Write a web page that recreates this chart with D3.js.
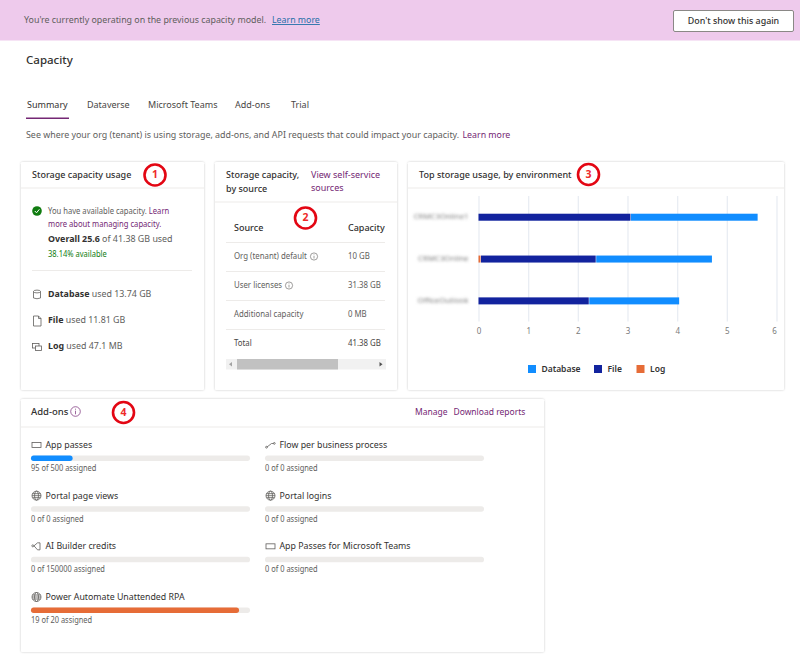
<!DOCTYPE html>
<html>
<head>
<meta charset="utf-8">
<script src="https://d3js.org/d3.v7.min.js"></script>
<style>
	html, body { margin: 0; padding: 0; background: #fff; }
	svg { display: block; }
	text { font-family: "Noto Sans", sans-serif; }
</style>
</head>
<body>
<svg id="page" width="800" height="658"></svg>
<script>
// chart data
var environments = ["CRMC3Online1", "CRMC3Online", "OfficeOutlook"];
var logValues = [0, 0.05, 0];
var fileValues = [3.07, 2.32, 2.23];
var databaseValues = [2.56, 2.34, 1.82];
var xTicks = [0, 1, 2, 3, 4, 5, 6];
var legendNames = ["Database", "File", "Log"];

// table data
var sourceNames = ["Org (tenant) default", "User licenses", "Additional capacity", "Total"];
var sourceCapacity = ["10 GB", "31.38 GB", "0 MB", "41.38 GB"];

// add-ons
var addonNames = ["App passes", "Portal page views", "AI Builder credits", "Power Automate Unattended RPA", "Flow per business process", "Portal logins", "App Passes for Microsoft Teams"];
var addonUsed = [95, 0, 0, 19, 0, 0, 0];
var addonTotal = [500, 0, 150000, 20, 0, 0, 0];
var addonIcons = ["pass", "globe", "ai", "globe", "flow", "globe", "pass"];

var tabNames = ["Summary", "Dataverse", "Microsoft Teams", "Add-ons", "Trial"];
var tabLeft = [27, 87, 148, 235, 291];

var purple = "#742774", ink = "#323130", grey = "#605e5c";
var colors = {Database: "#118dff", File: "#12239e", Log: "#e66c37"};

var svg = d3.select("#page");
var defs = svg.append("defs");
defs.append("filter").attr("id", "blur").append("feGaussianBlur").attr("stdDeviation", 1.4);
defs.append("filter").attr("id", "shadow").attr("x", "-2%").attr("y", "-2%").attr("width", "104%").attr("height", "104%")
	.append("feDropShadow").attr("dx", 0).attr("dy", 0).attr("stdDeviation", 0.9).attr("flood-color", "#000").attr("flood-opacity", 0.22);

// Noto is wider than the original face, this narrows a run but keeps the glyph height
function squeeze(t, k) {
	t.attr("lengthAdjust", "spacingAndGlyphs")
		.attr("textLength", t.node().getComputedTextLength() * k);
	return t;
}

function label(x, y, str, opt) {
	opt = opt || {};
	var t = svg.append("text")
		.attr("x", x).attr("y", y + 3)
		.attr("font-size", opt.size || 9)
		.attr("font-weight", opt.weight || 400)
		.attr("fill", opt.color || grey)
		.attr("text-anchor", opt.anchor || "start")
		.text(str);
	if (opt.squeeze) squeeze(t, opt.squeeze);
	return t;
}

function card(x, y, w, h, lineY) {
	svg.append("rect").attr("x", x).attr("y", y).attr("width", w).attr("height", h).attr("rx", 1.5)
		.attr("fill", "#fff").attr("filter", "url(#shadow)");
	svg.append("line").attr("x1", x).attr("x2", x + w).attr("y1", lineY).attr("y2", lineY)
		.attr("stroke", "#edebe9");
}

function marker(x, y, n) {
	svg.append("circle").attr("cx", x).attr("cy", y).attr("r", 10.5)
		.attr("fill", "#fff").attr("stroke", "#e30613").attr("stroke-width", 2.6);
	label(x, y, n, {size: 10.5, weight: 700, color: "#ee2a2a", anchor: "middle"});
}

// small outline icons, drawn around their centre
function icon(kind, cx, cy) {
	var g = svg.append("g").attr("transform", "translate(" + cx + "," + cy + ")")
		.attr("fill", "none").attr("stroke", "#605e5c").attr("stroke-width", 0.8);
	if (kind == "database") {
		g.append("path").attr("d", "M-3.5,-3V3.5Q0,5 3.5,3.5V-3");
		g.append("ellipse").attr("cy", -3).attr("rx", 3.5).attr("ry", 1.4);
	} else if (kind == "file") {
		g.append("path").attr("d", "M-3.5,-5H1.5L4,-2.5V5H-3.5ZM1.5,-5V-2.5H4");
	} else if (kind == "log") {
		g.append("rect").attr("x", -4.5).attr("y", -3.5).attr("width", 6.5).attr("height", 4.5);
		g.append("rect").attr("x", -1.5).attr("y", -1).attr("width", 6).attr("height", 4.5).attr("fill", "#fff");
	} else if (kind == "pass") {
		g.append("rect").attr("x", -4.5).attr("y", -2.5).attr("width", 9).attr("height", 5);
	} else if (kind == "globe") {
		g.append("circle").attr("r", 4.5);
		g.append("ellipse").attr("rx", 2).attr("ry", 4.5);
		g.append("path").attr("d", "M-4.5,0H4.5M-4,-2H4M-4,2H4");
	} else if (kind == "flow") {
		g.append("path").attr("d", "M-3.5,2L1,-1.5H3");
		g.append("circle").attr("cx", -4).attr("cy", 2.2).attr("r", 0.9);
		g.append("circle").attr("cx", 3.8).attr("cy", -1.6).attr("r", 0.9);
	} else if (kind == "ai") {
		g.append("path").attr("d", "M-2.5,-0.5L1,-3.5H3.5V3.5H1Z");
		g.append("circle").attr("cx", -3.7).attr("cy", -0.5).attr("r", 1);
	} else if (kind == "info") {
		g.attr("stroke-width", 0.6);
		g.append("circle").attr("r", 3.6);
		g.append("path").attr("d", "M0,-0.6V2M0,-2V-1.3");
	} else if (kind == "infoLarge") {
		g.attr("stroke", purple).attr("stroke-width", 0.7);
		g.append("circle").attr("r", 4.8);
		g.append("path").attr("d", "M0,-0.8V2.8M0,-2.8V-1.8");
	}
}

// banner
svg.append("rect").attr("width", 800).attr("height", 40.5).attr("fill", "#eecaec");
label(24, 20, "You're currently operating on the previous capacity model.", {size: 8.85});
label(272, 20, "Learn more", {size: 8.8, color: "#1f6fa8"}).attr("text-decoration", "underline");
svg.append("rect").attr("x", 673.5).attr("y", 10.5).attr("width", 120).attr("height", 21).attr("rx", 1.5)
	.attr("fill", "#fff").attr("stroke", "#8a8886");
label(733.5, 20.5, "Don't show this again", {size: 8.9, weight: 500, color: ink, anchor: "middle"});

// title and tabs
label(26, 61, "Capacity", {size: 11.5, weight: 500, color: ink});
tabNames.forEach(function(t, i) {
	label(tabLeft[i], 104.5, t, {size: 9, color: i == 0 ? ink : "#484644"});
});
svg.append("rect").attr("x", 26).attr("y", 117.5).attr("width", 43).attr("height", 1.5).attr("fill", purple);
label(26, 135, "See where your org (tenant) is using storage, add-ons, and API requests that could impact your capacity.", {size: 8.9});
label(462.5, 135, "Learn more", {size: 8.8, color: purple});

// card 1, storage usage
card(21, 162, 183, 228, 188);
label(32, 175, "Storage capacity usage", {size: 9, weight: 500, color: ink});
svg.append("circle").attr("cx", 37).attr("cy", 211).attr("r", 4.8).attr("fill", "#107c10");
svg.append("path").attr("d", "M34.8,211L36.5,212.8L39.4,209.3").attr("fill", "none").attr("stroke", "#fff").attr("stroke-width", 1);
var notice = label(48, 210.5, "", {size: 8.4});
notice.append("tspan").text("You have available capacity. ");
notice.append("tspan").attr("fill", purple).text("Learn");
squeeze(notice, 0.91);
label(48, 223.5, "more about managing capacity.", {size: 8.4, squeeze: 0.91, color: purple});
var overall = label(48, 239, "", {size: 8.9, color: grey});
overall.append("tspan").attr("font-weight", 700).attr("fill", ink).text("Overall 25.6");
overall.append("tspan").text(" of 41.38 GB used");
label(48, 253.5, "38.14% available", {size: 8.4, squeeze: 0.9, color: "#107c10"});
svg.append("line").attr("x1", 32).attr("x2", 192).attr("y1", 270.5).attr("y2", 270.5).attr("stroke", "#edebe9");
[["database", "Database", " used 13.74 GB", 293.5], ["file", "File", " used 11.81 GB", 320], ["log", "Log", " used 47.1 MB", 346]].forEach(function(r) {
	icon(r[0], 37, r[3] + 1);
	var t = label(48, r[3], "", {size: 8.85});
	t.append("tspan").attr("font-weight", 700).attr("fill", ink).text(r[1]);
	t.append("tspan").text(r[2]);
});

// card 2, table
card(215, 162, 182, 228, 202);
label(226, 175, "Storage capacity,", {size: 9, weight: 500, color: ink});
label(226, 188.5, "by source", {size: 9, weight: 500, color: ink});
label(311, 175, "View self-service", {size: 9, color: purple});
label(311, 188, "sources", {size: 9, color: purple});
label(234, 228, "Source", {size: 9, weight: 500, color: ink});
label(348, 228, "Capacity", {size: 9, weight: 500, color: ink});
var rowY = d3.scaleLinear().domain([0, 3]).range([256, 343]);
sourceNames.forEach(function(n, i) {
	var y = rowY(i);
	svg.append("line").attr("x1", 226).attr("x2", 385).attr("y1", y - 13.5).attr("y2", y - 13.5).attr("stroke", "#edebe9");
	label(234, y, n, {size: 8.5, squeeze: 0.92, color: i == 3 ? "#484644" : grey});
	label(348, y, sourceCapacity[i], {size: 8.5, squeeze: 0.92, color: i == 3 ? "#484644" : grey});
});
icon("info", 314, 256.5);
icon("info", 289, 285.5);
svg.append("rect").attr("x", 226).attr("y", 359).attr("width", 160).attr("height", 10.5).attr("fill", "#f1f1f1");
svg.append("rect").attr("x", 237).attr("y", 359).attr("width", 101).attr("height", 10.5).attr("fill", "#c1c1c1");
svg.append("path").attr("d", "M229,364.2L232,361.9V366.5Z").attr("fill", "#a3a3a3");
svg.append("path").attr("d", "M382.5,364.2L379.5,361.9V366.5Z").attr("fill", "#505050");

// card 3, stacked bars
card(408, 162, 376, 228, 188);
label(419, 175, "Top storage usage, by environment", {size: 9.05, weight: 500, color: ink});

var x = d3.scaleLinear().domain([0, 6]).range([478.5, 776.5]);
var y = d3.scaleBand().domain(environments).range([196, 321.5]);

var gridAxis = d3.axisBottom(x).tickValues(xTicks).tickSize(125.5).tickPadding(4).tickFormat(d3.format("d"));
var gx = svg.append("g").attr("transform", "translate(0,196)").call(gridAxis);
gx.select(".domain").remove();
gx.selectAll("line").attr("stroke", "#e9edf3").attr("stroke-width", 1.3);
gx.selectAll("text").attr("font-size", 8).attr("fill", "#7a7a7a").attr("font-family", "'Noto Sans', sans-serif")
	.attr("y", 132);
gx.selectAll("text").filter(function(d) { return d == 6; }).attr("dx", -2.5);

var gy = svg.append("g").attr("transform", "translate(468.5,0)")
	.call(d3.axisLeft(y).tickSize(0).tickPadding(0));
gy.select(".domain").remove();
gy.selectAll("text").attr("font-size", 7.8).attr("fill", "#7d7d7d").attr("filter", "url(#blur)")
	.attr("font-family", "'Noto Sans', sans-serif");

var stackRows = environments.map(function(e, i) {
	return {env: e, Log: logValues[i], File: fileValues[i], Database: databaseValues[i]};
});
var layers = d3.stack().keys(["Log", "File", "Database"])(stackRows);
svg.append("g").selectAll("g").data(layers).enter().append("g")
	.attr("fill", function(d) { return colors[d.key]; })
	.selectAll("rect").data(function(d) { return d; }).enter().append("rect")
	.attr("x", function(d) { return x(d[0]); })
	.attr("y", function(d) { return y(d.data.env) + y.bandwidth() / 2 - 3.2; })
	.attr("width", function(d) { return Math.max(0, x(d[1]) - x(d[0]) - 0.5); })
	.attr("height", 7);

var legendLeft = [528, 594, 636.5];
legendNames.forEach(function(n, i) {
	svg.append("rect").attr("x", legendLeft[i]).attr("y", 365).attr("width", 8).attr("height", 8).attr("fill", colors[n]);
	label(legendLeft[i] + 13.5, 369, n, {size: 8.5, weight: 600, color: "#333"});
});

// card 4, add-ons
card(21, 399, 523, 253, 427);
label(31, 412, "Add-ons", {size: 9.5, weight: 500, color: ink});
icon("infoLarge", 75.5, 411.5);
label(415, 412, "Manage", {size: 8.5, color: purple});
label(453.5, 412, "Download reports", {size: 8.5, color: purple});

var addonRow = d3.scaleLinear().domain([0, 3]).range([445, 597]);
addonNames.forEach(function(n, i) {
	var col = i < 4 ? 0 : 1;
	var row = i < 4 ? i : i - 4;
	var left = col == 0 ? 31 : 265;
	var top = addonRow(row);
	var bar = d3.scaleLinear().domain([0, addonTotal[i] || 1]).range([0, 219]);
	icon(addonIcons[i], left + 5.5, top);
	label(left + 14.5, top, n, {size: 8.8, color: ink});
	svg.append("rect").attr("x", left).attr("y", top + 10.5).attr("width", bar.range()[1]).attr("height", 5.5).attr("rx", 2.7).attr("fill", "#edebe9");
	if (addonUsed[i] > 0) {
		svg.append("rect").attr("x", left).attr("y", top + 10.5).attr("width", bar(addonUsed[i])).attr("height", 5.5).attr("rx", 2.7)
			.attr("fill", i == 0 ? colors.Database : colors.Log);
	}
	label(left, top + 23, addonUsed[i] + " of " + addonTotal[i] + " assigned", {size: 8.2, squeeze: 0.91, color: grey});
});

// numbered callouts
marker(155, 175, "1");
marker(305.5, 218, "2");
marker(588.5, 174.5, "3");
marker(123.5, 412.5, "4");
</script>
</body>
</html>
